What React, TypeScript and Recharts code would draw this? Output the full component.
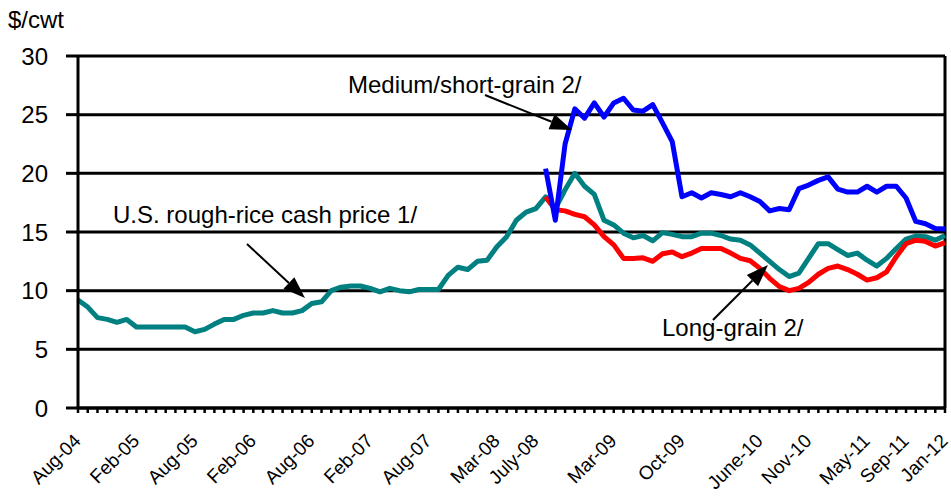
import { CartesianGrid, Line, LineChart, ReferenceLine, XAxis, YAxis } from "recharts";

const FONT = '"Liberation Sans", Arial, sans-serif';

// monthly categories Aug-04 .. Jan-12
const monthNames = ["Jan", "Feb", "Mar", "Apr", "May", "Jun", "Jul", "Aug", "Sep", "Oct", "Nov", "Dec"];
const months: string[] = [];
for (let y = 2004, m = 7; y < 2012 || (y === 2012 && m === 0); m++) {
  if (m === 12) { m = 0; y++; }
  months.push(`${monthNames[m]}-${String(y).slice(2)}`);
  if (y === 2012) break;
}

// labelled months on the axis -> text shown
const tickMonths = ["Aug-04", "Feb-05", "Aug-05", "Feb-06", "Aug-06", "Feb-07", "Aug-07", "Mar-08", "Jul-08", "Mar-09", "Oct-09", "Jun-10", "Nov-10", "May-11", "Sep-11", "Jan-12"];
const tickLabels = ["Aug-04", "Feb-05", "Aug-05", "Feb-06", "Aug-06", "Feb-07", "Aug-07", "Mar-08", "July-08", "Mar-09", "Oct-09", "June-10", "Nov-10", "May-11", "Sep-11", "Jan-12"];

const yTicks = [0, 5, 10, 15, 20, 25, 30];

// U.S. rough-rice cash price 1/ ($/cwt)
const roughPrice = [
  9.2, 8.6, 7.7, 7.55, 7.3, 7.55, 6.9, 6.9, 6.9, 6.9, 6.9, 6.9,
  6.5, 6.7, 7.15, 7.55, 7.55, 7.9, 8.1, 8.1, 8.3, 8.1, 8.1, 8.3,
  8.9, 9.05, 10.0, 10.3, 10.4, 10.4, 10.2, 9.9, 10.2, 10.0, 9.9, 10.1,
  10.1, 10.1, 11.3, 12.0, 11.8, 12.5, 12.6, 13.75, 14.6, 16.0, 16.7, 17.0,
  18.0, 17.0, 18.6, 20.0, 18.9, 18.2, 16.0, 15.6, 14.9, 14.5, 14.7, 14.25,
  14.95, 14.8, 14.6, 14.6, 14.9, 14.9, 14.7, 14.4, 14.3, 13.9, 13.2, 12.5,
  11.8, 11.2, 11.5, 12.75, 14.0, 14.0, 13.5, 13.0, 13.2, 12.6, 12.1, 12.75,
  13.6, 14.4, 14.65, 14.6, 14.3, 14.7,
];

// Long-grain 2/ (starts Aug-08)
const longGrain = [
  18.0, 16.9, 16.8, 16.5, 16.3, 15.6, 14.6, 13.9, 12.75, 12.75, 12.8, 12.5,
  13.15, 13.3, 12.9, 13.2, 13.6, 13.6, 13.6, 13.2, 12.75, 12.55, 11.9, 11.05,
  10.35, 10.0, 10.2, 10.7, 11.4, 11.9, 12.1, 11.8, 11.4, 10.9, 11.1, 11.6,
  12.9, 14.0, 14.3, 14.2, 13.8, 14.1,
];

// Medium/short-grain 2/ (starts Aug-08)
const mediumGrain = [
  20.4, 16.0, 22.5, 25.5, 24.7, 26.0, 24.8, 26.0, 26.4, 25.4, 25.3, 25.85,
  24.3, 22.7, 18.0, 18.35, 17.9, 18.35, 18.2, 18.0, 18.35, 18.0, 17.6, 16.8,
  17.0, 16.9, 18.7, 19.0, 19.4, 19.7, 18.65, 18.4, 18.4, 18.9, 18.4, 18.9,
  18.9, 17.9, 15.9, 15.7, 15.3, 15.25,
];

const gradeStart = months.indexOf("Aug-08");

const data = months.map((month, i) => ({
  month,
  rough: roughPrice[i],
  long: i >= gradeStart ? longGrain[i - gradeStart] : null,
  medium: i >= gradeStart ? mediumGrain[i - gradeStart] : null,
}));

function MonthTick(props: any) {
  const { x, y, payload } = props;
  const idx = tickMonths.indexOf(payload.value);
  if (idx < 0) return <g />;
  const ax = x + 4;
  const ay = y + 27;
  return (
    <text x={ax} y={ay} transform={`rotate(-45 ${ax} ${ay})`} textAnchor="end" fontSize={19} fontFamily={FONT} fill="#000">
      {tickLabels[idx]}
    </text>
  );
}

function Arrow({ x1, y1, x2, y2 }: { x1: number; y1: number; x2: number; y2: number }) {
  const len = Math.hypot(x2 - x1, y2 - y1);
  const ux = (x2 - x1) / len;
  const uy = (y2 - y1) / len;
  const hl = 22;
  const hw = 8;
  const bx = x2 - ux * hl;
  const by = y2 - uy * hl;
  return (
    <g>
      <line x1={x1} y1={y1} x2={bx} y2={by} stroke="#000" strokeWidth={2} />
      <polygon points={`${x2},${y2} ${bx - uy * hw},${by + ux * hw} ${bx + uy * hw},${by - ux * hw}`} fill="#000" />
    </g>
  );
}

export default function App() {
  return (
    <div style={{ position: "absolute", left: 0, top: 0, width: 951, height: 503, background: "#fff" }}>
      <LineChart width={951} height={503} data={data} margin={{ top: 56, right: 6, bottom: 0, left: 0 }}>
        <CartesianGrid vertical={false} stroke="#000" strokeWidth={3} />
        <XAxis
          dataKey="month"
          interval={0}
          height={95}
          tick={<MonthTick />}
          tickSize={5}
          axisLine={{ stroke: "#000", strokeWidth: 3 }}
          tickLine={{ stroke: "#000", strokeWidth: 2.5 }}
        />
        <YAxis
          domain={[0, 30]}
          ticks={yTicks}
          width={78}
          tickSize={12}
          tickMargin={18}
          axisLine={{ stroke: "#000", strokeWidth: 3 }}
          tickLine={{ stroke: "#000", strokeWidth: 3 }}
          tick={{ fontSize: 24, fontFamily: FONT, fill: "#000" }}
        />
        <ReferenceLine x="Jan-12" stroke="#000" strokeWidth={3} />
        <Line dataKey="rough" stroke="#008080" strokeWidth={5} dot={false} isAnimationActive={false} strokeLinejoin="round" />
        <Line dataKey="long" stroke="#ff0000" strokeWidth={5} dot={false} isAnimationActive={false} strokeLinejoin="round" />
        <Line dataKey="medium" stroke="#0000ff" strokeWidth={5} dot={false} isAnimationActive={false} strokeLinejoin="round" />
      </LineChart>
      <svg width={951} height={503} style={{ position: "absolute", left: 0, top: 0, pointerEvents: "none" }} fontFamily={FONT} fontSize={24}>
        <text x={8} y={28} fill="#000">$/cwt</text>
        <text x={348} y={93} fill="#000">Medium/short-grain 2/</text>
        <text x={113} y={223} fill="#000">U.S. rough-rice cash price 1/</text>
        <text x={662} y={336} fill="#000">Long-grain 2/</text>
        <Arrow x1={485} y1={95} x2={572} y2={130} />
        <Arrow x1={247} y1={244} x2={305} y2={298} />
        <Arrow x1={713} y1={320} x2={768} y2={265} />
      </svg>
    </div>
  );
}
